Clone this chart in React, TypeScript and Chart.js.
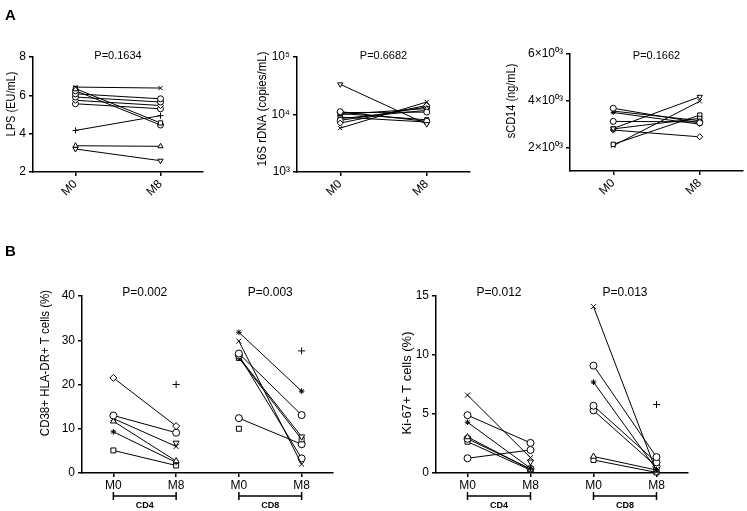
import React, { useEffect, useRef } from 'react';
import { Chart, registerables } from 'chart.js';

Chart.register(...registerables);

const PAGE_W = 747;
const PAGE_H = 511;
const FONT = "'Liberation Sans', Arial, Helvetica, sans-serif";

// ---------------- data ----------------
const timeLabels = ['M0', 'M8'];
const subsetTimeLabels = ['M0', 'M8', 'M0', 'M8'];
const subsetLabels = ['CD4', 'CD8'];

const lpsM0 = [6.43, 6.35, 6.24, 6.08, 5.91, 5.74, 5.56, 4.17, 3.37, 3.2];
const lpsM8 = [6.38, 4.56, 4.45, 5.82, 5.65, 5.47, 5.3, 4.94, 3.34, 2.59];
const lpsMarkers = ['crossRot', 'rect', 'circle', 'circle', 'circle', 'rectRot', 'circle', 'cross', 'triangle', 'triangleDown'];

const dnaM0 = [33500, 11200, 10400, 10800, 10000, 5800, 7100, 7900, 9000, 8500];
const dnaM8 = [6800, 7600, 8100, 11000, 12700, 16500, 14400, 13500, 7400, 11800];
const dnaMarkers = ['triangleDown', 'circle', 'rect', 'circle', 'triangle', 'crossRot', 'rectRot', 'circle', 'rect', 'cross'];

const cd14M0 = [3680, 3560, 3500, 3120, 2820, 2800, 2750, 2140, 2080];
const cd14M8 = [3060, 3150, 3000, 3100, 4170, 3250, 2460, 3390, 3980];
const cd14Markers = ['circle', 'crossRot', 'star', 'circle', 'triangleDown', 'rect', 'rectRot', 'rect', 'crossRot'];

const cd38Cd4M0 = [21.5, 13.0, 12.3, 11.7, 9.3, 5.1, null, null];
const cd38Cd4M8 = [10.6, 9.1, 6.0, 2.7, 2.4, 1.7, 20.0, 6.8];
const cd38Cd4Markers = ['rectRot', 'circle', 'crossRot', 'triangle', 'star', 'rect', 'cross', 'triangleDown'];

const cd38Cd8M0 = [31.8, 29.8, 27.0, 26.6, 26.2, 26.0, 12.4, 10.0, null];
const cd38Cd8M8 = [18.5, 2.0, 13.1, 3.3, 8.2, 7.6, 6.5, null, 27.6];
const cd38Cd8Markers = ['star', 'crossRot', 'circle', 'circle', 'triangleDown', 'rect', 'circle', 'rect', 'cross'];

const ki67Cd4M0 = [6.6, 4.9, 4.3, 3.05, 2.9, 2.65, 1.25, null];
const ki67Cd4M8 = [1.3, 2.55, 0.4, 0.3, 0.35, 0.25, 1.95, 0.95];
const ki67Cd4Markers = ['crossRot', 'circle', 'star', 'triangle', 'circle', 'rect', 'circle', 'triangleDown'];

const ki67Cd8M0 = [14.1, 9.1, 7.7, 5.7, 5.3, 1.4, 1.1, null];
const ki67Cd8M8 = [0.1, 1.35, 0.3, 0.9, 0.55, 0.25, 0.05, 5.8];
const ki67Cd8Markers = ['crossRot', 'circle', 'star', 'circle', 'circle', 'triangle', 'rect', 'cross'];

const pValuesA = ['P=0.1634', 'P=0.6682', 'P=0.1662'];
const pValuesCd38 = ['P=0.002', 'P=0.003'];
const pValuesKi67 = ['P=0.012', 'P=0.013'];

const lpsTicks = [2, 4, 6, 8];
const dnaTicks = [1000, 10000, 100000];
const dnaTickLabels = ['10³', '10⁴', '10⁵'];
const cd14Ticks = [2000, 4000, 6000];
const cd14TickLabels = ['2×10⁰³', '4×10⁰³', '6×10⁰³'];
const cd38Ticks = [0, 10, 20, 30, 40];
const ki67Ticks = [0, 5, 10, 15];

// ---------------- helpers ----------------
function markerStyle(m: string) {
  if (m === 'triangleDown') return { pointStyle: 'triangle', rotation: 180 };
  return { pointStyle: m, rotation: 0 };
}

function pairedDatasets(m0: (number | null)[], m8: (number | null)[], markers: string[], offset: number, radius: number) {
  return m0.map((v, i) => {
    const s = markerStyle(markers[i]);
    return {
      data: [
        { x: offset, y: v },
        { x: offset + 1, y: m8[i] },
      ],
      borderColor: '#000',
      borderWidth: 1,
      pointStyle: s.pointStyle,
      pointRotation: s.rotation,
      pointRadius: s.pointStyle === 'star' ? radius * 0.8 : radius,
      pointBackgroundColor: '#fff',
      pointBorderColor: '#000',
      pointBorderWidth: 1,
      spanGaps: false,
      clip: false,
      tension: 0,
      fill: false,
    };
  });
}

const decorPlugin = {
  id: 'decor',
  afterDraw(chart: any, _args: any, opts: any) {
    const ctx = chart.ctx as CanvasRenderingContext2D;
    const xs = chart.scales.x;
    ctx.save();
    ctx.fillStyle = '#000';
    ctx.strokeStyle = '#000';
    if (opts.title) {
      const t = opts.title;
      ctx.save();
      ctx.translate(t.x, t.y);
      ctx.rotate(-Math.PI / 2);
      ctx.scale(1, t.stretch || 1);
      ctx.font = `${t.size}px ${FONT}`;
      ctx.textAlign = 'center';
      ctx.textBaseline = 'middle';
      ctx.fillText(t.text, 0, 0);
      ctx.restore();
    }
    for (const p of opts.pTexts || []) {
      ctx.font = `${p.size}px ${FONT}`;
      ctx.textAlign = 'center';
      ctx.textBaseline = 'middle';
      ctx.fillText(p.text, xs.getPixelForValue(p.x), p.y);
    }
    for (const b of opts.brackets || []) {
      const x0 = xs.getPixelForValue(b.from);
      const x1 = xs.getPixelForValue(b.to);
      ctx.lineWidth = 1.5;
      ctx.beginPath();
      ctx.moveTo(x0, b.y);
      ctx.lineTo(x1, b.y);
      ctx.moveTo(x0, b.y - 4);
      ctx.lineTo(x0, b.y + 4);
      ctx.moveTo(x1, b.y - 4);
      ctx.lineTo(x1, b.y + 4);
      ctx.stroke();
      ctx.font = `bold 9px ${FONT}`;
      ctx.textAlign = 'center';
      ctx.textBaseline = 'middle';
      ctx.fillText(b.label, (x0 + x1) / 2, b.labelY);
    }
    for (const l of opts.letters || []) {
      ctx.font = `bold 15px ${FONT}`;
      ctx.textAlign = 'left';
      ctx.textBaseline = 'alphabetic';
      ctx.fillText(l.text, l.x, l.y);
    }
    ctx.restore();
  },
};

type Spec = {
  left: number; top: number; right: number; bottom: number; xLabelH: number;
  xMax: number; xLabels: string[]; rotate: number;
  yType: string; yMin: number; yMax: number; yTicks: number[]; yTickLabels?: string[];
  datasets: any[];
  decor: any;
};

function buildConfig(s: Spec): any {
  const tickFont = { family: FONT, size: 12 };
  return {
    type: 'line',
    data: { datasets: s.datasets },
    plugins: [decorPlugin],
    options: {
      animation: false,
      responsive: false,
      events: [],
      layout: {
        autoPadding: false,
        padding: { left: 0, top: s.top, right: PAGE_W - s.right, bottom: PAGE_H - s.bottom - s.xLabelH },
      },
      plugins: { legend: { display: false }, tooltip: { enabled: false }, decor: s.decor },
      scales: {
        x: {
          type: 'linear',
          min: -0.5,
          max: s.xMax,
          afterFit: (sc: any) => { sc.height = s.xLabelH; },
          afterBuildTicks: (sc: any) => { sc.ticks = s.xLabels.map((_, i) => ({ value: i })); },
          ticks: {
            font: tickFont,
            color: '#000',
            padding: 1,
            minRotation: s.rotate,
            maxRotation: s.rotate,
            autoSkip: false,
            callback: (v: number) => s.xLabels[Math.round(v)] ?? '',
          },
          grid: { display: true, drawOnChartArea: false, drawTicks: true, tickLength: 4, color: '#000', lineWidth: 1.5 },
          border: { display: true, color: '#000', width: 1.5 },
        },
        y: {
          type: s.yType,
          min: s.yMin,
          max: s.yMax,
          afterFit: (sc: any) => { sc.width = s.left; },
          afterBuildTicks: (sc: any) => { sc.ticks = s.yTicks.map((v) => ({ value: v })); },
          ticks: {
            font: tickFont,
            color: '#000',
            padding: 3,
            autoSkip: false,
            callback: (v: number) => {
              const i = s.yTicks.indexOf(v);
              if (s.yTickLabels) return i >= 0 ? s.yTickLabels[i] : '';
              return String(v);
            },
          },
          grid: { display: true, drawOnChartArea: false, drawTicks: true, tickLength: 4, color: '#000', lineWidth: 1.5 },
          border: { display: true, color: '#000', width: 1.5 },
        },
      },
    },
  };
}

const specs: Spec[] = [
  {
    left: 33, top: 57, right: 203, bottom: 172, xLabelH: 30, xMax: 1.5, xLabels: timeLabels, rotate: 45,
    yType: 'linear', yMin: 2, yMax: 8, yTicks: lpsTicks,
    datasets: pairedDatasets(lpsM0, lpsM8, lpsMarkers, 0, 3),
    decor: {
      title: { text: 'LPS (EU/mL)', x: 12, y: 104, size: 11, stretch: 1.15 },
      pTexts: [{ text: pValuesA[0], x: 0.5, y: 56, size: 11 }],
      letters: [{ text: 'A', x: 5, y: 20 }, { text: 'B', x: 5, y: 256 }],
    },
  },
  {
    left: 297, top: 57, right: 470, bottom: 172, xLabelH: 30, xMax: 1.5, xLabels: timeLabels, rotate: 45,
    yType: 'logarithmic', yMin: 1000, yMax: 100000, yTicks: dnaTicks, yTickLabels: dnaTickLabels,
    datasets: pairedDatasets(dnaM0, dnaM8, dnaMarkers, 0, 3),
    decor: {
      title: { text: '16S rDNA (copies/mL)', x: 263, y: 109, size: 11.5, stretch: 1.1 },
      pTexts: [{ text: pValuesA[1], x: 0.5, y: 56, size: 11 }],
    },
  },
  {
    left: 570, top: 54, right: 743, bottom: 171, xLabelH: 30, xMax: 1.5, xLabels: timeLabels, rotate: 45,
    yType: 'linear', yMin: 1000, yMax: 6000, yTicks: cd14Ticks, yTickLabels: cd14TickLabels,
    datasets: pairedDatasets(cd14M0, cd14M8, cd14Markers, 0, 3),
    decor: {
      title: { text: 'sCD14 (ng/mL)', x: 512, y: 101, size: 11, stretch: 1.15 },
      pTexts: [{ text: pValuesA[2], x: 0.5, y: 56, size: 11 }],
    },
  },
  {
    left: 82, top: 296, right: 333, bottom: 473, xLabelH: 18, xMax: 3.5, xLabels: subsetTimeLabels, rotate: 0,
    yType: 'linear', yMin: 0, yMax: 40, yTicks: cd38Ticks,
    datasets: [
      ...pairedDatasets(cd38Cd4M0, cd38Cd4M8, cd38Cd4Markers, 0, 3.5),
      ...pairedDatasets(cd38Cd8M0, cd38Cd8M8, cd38Cd8Markers, 2, 3.5),
    ],
    decor: {
      title: { text: 'CD38+ HLA-DR+ T cells (%)', x: 46, y: 363, size: 11.5, stretch: 1.1 },
      pTexts: [
        { text: pValuesCd38[0], x: 0.5, y: 293, size: 12 },
        { text: pValuesCd38[1], x: 2.5, y: 293, size: 12 },
      ],
      brackets: [
        { from: 0, to: 1, label: subsetLabels[0], y: 496, labelY: 506 },
        { from: 2, to: 3, label: subsetLabels[1], y: 496, labelY: 506 },
      ],
    },
  },
  {
    left: 436, top: 296, right: 688, bottom: 473, xLabelH: 18, xMax: 3.5, xLabels: subsetTimeLabels, rotate: 0,
    yType: 'linear', yMin: 0, yMax: 15, yTicks: ki67Ticks,
    datasets: [
      ...pairedDatasets(ki67Cd4M0, ki67Cd4M8, ki67Cd4Markers, 0, 3.5),
      ...pairedDatasets(ki67Cd8M0, ki67Cd8M8, ki67Cd8Markers, 2, 3.5),
    ],
    decor: {
      title: { text: 'Ki-67+ T cells (%)', x: 407, y: 383, size: 13, stretch: 1.05 },
      pTexts: [
        { text: pValuesKi67[0], x: 0.5, y: 293, size: 12 },
        { text: pValuesKi67[1], x: 2.5, y: 293, size: 12 },
      ],
      brackets: [
        { from: 0, to: 1, label: subsetLabels[0], y: 496, labelY: 506 },
        { from: 2, to: 3, label: subsetLabels[1], y: 496, labelY: 506 },
      ],
    },
  },
];

function ChartLayer({ spec }: { spec: Spec }) {
  const ref = useRef<HTMLCanvasElement>(null);
  useEffect(() => {
    const chart = new Chart(ref.current as HTMLCanvasElement, buildConfig(spec));
    return () => chart.destroy();
  }, [spec]);
  return (
    <canvas
      ref={ref}
      width={PAGE_W}
      height={PAGE_H}
      style={{ position: 'absolute', left: 0, top: 0, width: PAGE_W, height: PAGE_H }}
    />
  );
}

export default function App() {
  return (
    <div style={{ position: 'absolute', left: 0, top: 0, width: PAGE_W, height: PAGE_H, background: '#fff', overflow: 'hidden' }}>
      {specs.map((s, i) => (
        <ChartLayer key={i} spec={s} />
      ))}
    </div>
  );
}
